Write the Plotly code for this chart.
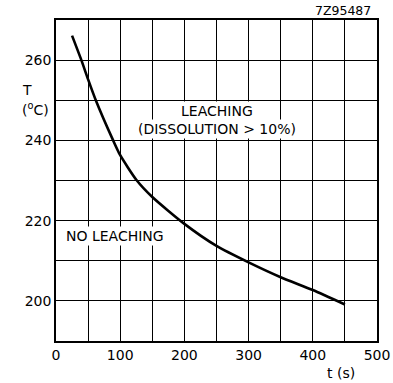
import plotly.graph_objects as go

t_vals = [25, 39.5, 50, 62, 89, 100, 125, 150, 200, 250, 300, 350, 400, 450]
T_vals = [266.1, 260, 255.2, 250, 240, 236.3, 230.2, 225.9, 219.2, 213.7, 209.6, 205.9, 202.7, 199.1]

x_ticks = [0, 100, 200, 300, 400, 500]
y_ticks = [200, 220, 240, 260]

FONT = "DejaVu Sans, Liberation Sans, sans-serif"

fig = go.Figure()
fig.add_trace(go.Scatter(x=t_vals, y=T_vals, mode="lines",
                         line=dict(color="black", width=2.6, shape="spline", smoothing=0.6),
                         hoverinfo="skip", showlegend=False))

axis_common = dict(showgrid=True, gridcolor="black", gridwidth=1.3, automargin=False,
                   showline=True, linecolor="black", linewidth=1.5, mirror=True,
                   zeroline=False, ticks="", tickfont=dict(family=FONT, size=14, color="black"))

fig.update_xaxes(range=[0, 500], tickvals=x_ticks, ticktext=[str(v) for v in x_ticks],
                 minor=dict(dtick=50, tick0=0, showgrid=True, gridcolor="black", gridwidth=1.3, ticks=""),
                 **axis_common)
fig.update_yaxes(range=[190, 270], tickvals=y_ticks, ticktext=[str(v) for v in y_ticks],
                 minor=dict(dtick=10, tick0=190, showgrid=True, gridcolor="black", gridwidth=1.3, ticks=""),
                 **axis_common)

ann_font = dict(family=FONT, size=14, color="black")
fig.add_annotation(x=250, y=247.2, text="LEACHING", showarrow=False, font=ann_font,
                   bgcolor="white", borderpad=1)
fig.add_annotation(x=251.5, y=242.9, text="(DISSOLUTION > 10%)", showarrow=False, font=ann_font,
                   bgcolor="white", borderpad=1)
fig.add_annotation(x=92, y=216.1, text="NO LEACHING", showarrow=False, font=ann_font,
                   bgcolor="white", borderpad=1)
fig.add_annotation(xref="paper", yref="paper", x=1.0, y=1.0, xshift=-4, yshift=10,
                   xanchor="right", yanchor="middle",
                   text="7Z95487", showarrow=False, font=dict(family=FONT, size=12.5, color="black"))
fig.add_annotation(xref="paper", yref="paper", x=1.0, y=0, xshift=-20, yshift=-32,
                   xanchor="right", yanchor="middle",
                   text="t (s)", showarrow=False, font=dict(family=FONT, size=14, color="black"))
fig.add_annotation(xref="paper", yref="y", x=0, xshift=-36, y=252.6, text="T", showarrow=False,
                   font=dict(family=FONT, size=14, color="black"))
fig.add_annotation(xref="paper", yref="y", x=0, xshift=-36, y=247.9, text="(<sup>o</sup>C)", showarrow=False,
                   font=dict(family=FONT, size=14, color="black"))

fig.update_layout(width=393, height=383, plot_bgcolor="white", paper_bgcolor="white",
                  margin=dict(l=56, r=16, t=20, b=42, autoexpand=False), showlegend=False)

fig.write_html("out.html", config={"displayModeBar": False},
               post_script="document.body.style.margin='0';document.body.style.padding='0';")
